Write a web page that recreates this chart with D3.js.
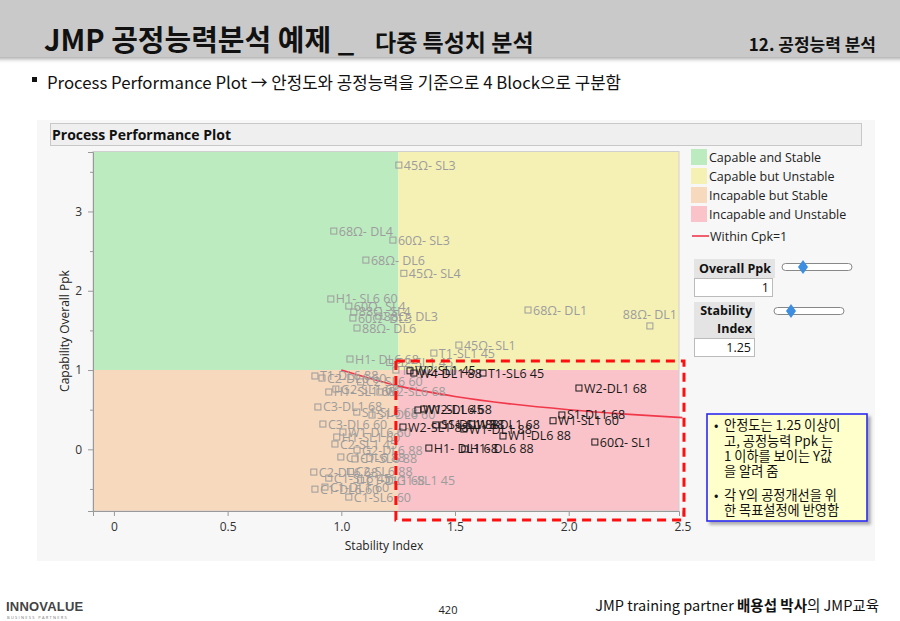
<!DOCTYPE html>
<html><head><meta charset="utf-8">
<script src="https://cdn.jsdelivr.net/npm/d3@7"></script>
<style>body{margin:0;background:#fff;overflow:hidden} svg{display:block}</style>
</head><body>
<script>
// ---------- data ----------
const pointLabels = [
 "45Ω- SL3","68Ω- DL4","60Ω- SL3","68Ω- DL6","45Ω- SL4","H1- SL6 60","60Ω- SL4","88Ω- SL4","60Ω- DL3","88Ω- DL3",
 "88Ω- DL6","68Ω- DL1","88Ω- DL1","45Ω- SL1","T1-SL1 45","H1- DL6 68","G2-SL1 45","T1-SL1 60",
 "T1-DL6 88","C2-DL6 60","G2-SL1 68","H1- SL1 68","W2-SL6 68","C2-SL6 60","C3-DL1 68","S1-SL6 68","S1-DL6 60",
 "C3-DL6 60","W1-DL6 60","H1-SL1 60","C2-SL1 45","C1-DL6 88","C1-SL6 88","G2-DL6 88","C2-DL6 68","C2-SL6 88",
 "C1-SL6 45","C1-DL1 60","C1-DL6 60","C1-SL6 60","C1-DL1 68","G1-SL1 45",
 "W2-SL1 45","W4-DL1 88","T1-SL6 45","W2-DL1 68","W1-SL1 45","W2-DL6 68","S1-DL1 68","W1-SL1 60","W2-SL1 88",
 "S1-DL1 88","S1-SL1 88","W3-DL1 68","W1-DL1 88","W1-DL6 88","60Ω- SL1","H1- DL1 68","H1- DL6 88"
];
const stabilityIndex = [
 1.253,0.967,1.227,1.108,1.275,0.954,1.033,1.055,1.051,1.165,
 1.069,1.821,2.357,1.517,1.407,1.038,1.213,1.240,
 0.884,0.915,0.976,0.945,1.170,1.085,0.897,1.068,1.135,
 0.919,1.007,0.980,0.972,0.998,1.060,1.069,0.879,1.040,
 0.945,0.928,0.884,1.033,1.085,1.222,
 1.302,1.319,1.623,2.045,1.337,1.363,1.970,1.931,1.271,
 1.416,1.447,1.574,1.539,1.711,2.115,1.385,1.543
];
const overallPpk = [
 3.585,2.753,2.639,2.387,2.220,1.896,1.807,1.732,1.656,1.681,
 1.530,1.757,1.556,1.315,1.214,1.139,1.095,1.000,
 0.925,0.899,0.760,0.723,0.723,0.850,0.534,0.470,0.433,
 0.319,0.218,0.155,0.067,-0.097,-0.122,-0.009,-0.287,-0.280,
 -0.363,-0.476,-0.502,-0.602,-0.390,-0.389,
 0.990,0.962,0.962,0.773,0.496,0.508,0.433,0.360,0.281,
 0.307,0.307,0.319,0.256,0.168,0.092,0.016,0.004
];
const xTicks = [0,0.5,1,1.5,2,2.5];
const xTickLabels = ["0","0.5","1.0","1.5","2.0","2.5"];
const yTicks = [0,1,2,3];
const yTickLabels = ["0","1","2","3"];
const yMinorTicks = [-0.5,0.5,1.5,2.5,3.5];
const xDomain = [-0.092,2.485];
const yDomain = [-0.778,3.75];
const ppkLimit = 1;
const stabilityLimit = 1.25;
const refStability = [1.0,1.25,1.5,1.75,2.0,2.25,2.5];
const refPpk = [1.0,0.8,0.667,0.571,0.5,0.444,0.4];
const regionNames = ["Capable and Stable","Capable but Unstable","Incapable but Stable","Incapable and Unstable"];
const regionColors = ["#bcebc0","#f5f1b5","#f7d9bd","#f9c3c9"];
const highlightBox = {x0:1.24, x1:2.507, y0:1.115, y1:-0.89};
const calloutLines = [
 ["• ","안정도는 1.25 이상이"],["","고, 공정능력 Ppk 는"],["","1 이하를 보이는 Y값"],["","을 알려 줌"],
 ["• ","각 Y의 공정개선을 위"],["","한 목표설정에 반영함"]
];

// ---------- drawing ----------
const W=900,H=621;
const svg=d3.select("body").append("svg").attr("width",W).attr("height",H);
const defs=svg.append("defs");
const f1=defs.append("filter").attr("id","sh").attr("x","-10%").attr("y","-50%").attr("width","120%").attr("height","200%");
f1.append("feDropShadow").attr("dx",0).attr("dy",2).attr("stdDeviation",2).attr("flood-color","#000").attr("flood-opacity",0.35);
const f2=defs.append("filter").attr("id","sh2").attr("x","-10%").attr("y","-10%").attr("width","130%").attr("height","130%");
f2.append("feDropShadow").attr("dx",3).attr("dy",3).attr("stdDeviation",1.5).attr("flood-color","#000").attr("flood-opacity",0.3);

const KR="'Noto Sans CJK KR','Noto Sans',sans-serif";
const UI="'Open Sans','Noto Sans',sans-serif";

// header
svg.append("rect").attr("x",-5).attr("y",-5).attr("width",W+10).attr("height",62).attr("fill","#c9c9c9").attr("filter","url(#sh)");
svg.append("text").attr("x",44).attr("y",51).attr("font-family",KR).attr("fill","#111")
 .attr("font-size",29).attr("font-weight",700).text("JMP 공정능력분석 예제 _");
svg.append("text").attr("x",375).attr("y",51).attr("font-family",KR).attr("fill","#111")
 .attr("font-size",23).attr("font-weight",700).text("다중 특성치 분석");
svg.append("text").attr("x",876).attr("y",51).attr("text-anchor","end").attr("font-family",KR).attr("font-size",17).attr("font-weight",700).attr("fill","#111").text("12. 공정능력 분석");

// subtitle
svg.append("rect").attr("x",32).attr("y",77).attr("width",5).attr("height",5).attr("fill","#111");
svg.append("text").attr("x",47).attr("y",89).attr("font-family",KR).attr("font-size",16.8).attr("fill","#111")
  .text("Process Performance Plot → 안정도와 공정능력을 기준으로 4 Block으로 구분함");

// JMP panel
svg.append("rect").attr("x",37).attr("y",120).attr("width",838).attr("height",441).attr("fill","#f7f7f7");
svg.append("rect").attr("x",50.5).attr("y",123.5).attr("width",811).attr("height",22).attr("fill","#efefef").attr("stroke","#c8c8c8");
svg.append("text").attr("x",52).attr("y",140).attr("font-family",UI).attr("font-size",14).attr("font-weight",700).attr("fill","#111").text("Process Performance Plot");

const x=d3.scaleLinear().domain(xDomain).range([93,679]);
const y=d3.scaleLinear().domain(yDomain).range([511,152]);

// regions
const regions=[
 {x0:xDomain[0],x1:stabilityLimit,y0:yDomain[1],y1:ppkLimit},
 {x0:stabilityLimit,x1:xDomain[1],y0:yDomain[1],y1:ppkLimit},
 {x0:xDomain[0],x1:stabilityLimit,y0:ppkLimit,y1:yDomain[0]},
 {x0:stabilityLimit,x1:xDomain[1],y0:ppkLimit,y1:yDomain[0]}
];
const plot=svg.append("g");
plot.selectAll("rect.reg").data(regions).join("rect").attr("class","reg")
 .attr("x",d=>x(d.x0)).attr("y",d=>y(d.y0)).attr("width",d=>x(d.x1)-x(d.x0)).attr("height",d=>y(d.y1)-y(d.y0))
 .attr("fill",(d,i)=>regionColors[i]);
plot.append("rect").attr("x",93).attr("y",151.5).attr("width",586).attr("height",359.5).attr("fill","none").attr("stroke","#d0d0d0");

// axes
const xa=svg.append("g").attr("transform","translate(0,511)")
 .call(d3.axisBottom(x).tickValues(xTicks).tickFormat((d,i)=>xTickLabels[i]).tickSize(5).tickPadding(6));
const ya=svg.append("g").attr("transform","translate(93,0)")
 .call(d3.axisLeft(y).tickValues(yTicks).tickFormat((d,i)=>yTickLabels[i]).tickSize(5).tickPadding(6));
svg.append("g").attr("transform","translate(93,0)").call(d3.axisLeft(y).tickValues(yMinorTicks).tickFormat("").tickSize(3))
  .call(g=>g.select(".domain").remove()).selectAll("line").attr("stroke","#999");
[xa,ya].forEach(a=>{a.select(".domain").attr("stroke","#999");a.selectAll(".tick line").attr("stroke","#999");
 a.selectAll("text").attr("font-family",UI).attr("font-size",12).attr("fill","#333");});
svg.append("text").attr("x",384).attr("y",550).attr("text-anchor","middle").attr("font-family",UI).attr("font-size",12).attr("fill","#222").text("Stability Index");
svg.append("text").attr("transform","translate(69,331) rotate(-90)").attr("text-anchor","middle").attr("font-family",UI).attr("font-size",12).attr("fill","#222").text("Capability Overall Ppk");

// reference curve
const ref=refStability.map((s,i)=>[s,refPpk[i]]);
plot.append("path").datum(ref).attr("d",d3.line().x(d=>x(d[0])).y(d=>y(d[1])).curve(d3.curveMonotoneX))
 .attr("fill","none").attr("stroke","#f0384a").attr("stroke-width",1.6);

// points
const pts=pointLabels.map((l,i)=>({l,s:stabilityIndex[i],p:overallPpk[i],hi:stabilityIndex[i]>stabilityLimit&&overallPpk[i]<ppkLimit}));
pts.sort((a,b)=>a.hi-b.hi);
const pg=plot.selectAll("g.pt").data(pts).join("g").attr("class","pt")
 .attr("transform",d=>`translate(${x(d.s)},${y(d.p)})`);
pg.append("rect").attr("x",-3).attr("y",-3).attr("width",6).attr("height",6).attr("fill","none")
 .attr("stroke",d=>d.hi?"#1a1a1a":"#9c9c9c").attr("stroke-width",1);
pg.append("text").attr("font-family",UI).attr("font-size",12.5)
 .attr("fill",d=>d.hi?"#1a1a1a":"#9c9c9c").text(d=>d.l)
 .each(function(d){
   const el=d3.select(this);
   const w=this.getComputedTextLength();
   if(x(d.s)+5+w>x.range()[1]){ // label would leave the frame: centre it above the point
     el.attr("x",0).attr("y",-7).attr("text-anchor","middle");
   } else el.attr("x",5).attr("y",4.5);
 });

// highlight box
svg.append("rect").attr("x",x(highlightBox.x0)).attr("y",y(highlightBox.y0))
 .attr("width",x(highlightBox.x1)-x(highlightBox.x0)).attr("height",y(highlightBox.y1)-y(highlightBox.y0))
 .attr("fill","none").attr("stroke","#ff1010").attr("stroke-width",3).attr("stroke-dasharray","9,6");

// legend
const lg=svg.append("g");
regionNames.forEach((n,i)=>{
 lg.append("rect").attr("x",691).attr("y",149+i*19).attr("width",16).attr("height",16).attr("fill",regionColors[i]);
 lg.append("text").attr("x",709).attr("y",162+i*19).attr("font-family",UI).attr("font-size",12.5).attr("fill","#222").text(n);
});
lg.append("line").attr("x1",692).attr("x2",709).attr("y1",236).attr("y2",236).attr("stroke","#f0384a").attr("stroke-width",1.6);
lg.append("text").attr("x",710).attr("y",240.5).attr("font-family",UI).attr("font-size",12.5).attr("fill","#222").text("Within Cpk=1");

// controls
function slider(x0,x1,cy,kx){
 lg.append("rect").attr("x",x0).attr("y",cy-3.5).attr("width",x1-x0).attr("height",7).attr("rx",3.5).attr("fill","#fff").attr("stroke","#888");
 lg.append("path").attr("d",`M${kx},${cy-7}L${kx+5},${cy}L${kx},${cy+7}L${kx-5},${cy}Z`).attr("fill","#3d8ee0");
}
lg.append("rect").attr("x",694).attr("y",259).attr("width",81).attr("height",19).attr("fill","#e4e4e4");
lg.append("text").attr("x",771).attr("y",273).attr("text-anchor","end").attr("font-family",UI).attr("font-size",12.5).attr("font-weight",700).attr("fill","#111").text("Overall Ppk");
lg.append("rect").attr("x",694.5).attr("y",278.5).attr("width",78).attr("height",18).attr("fill","#fff").attr("stroke","#bbb");
lg.append("text").attr("x",769).attr("y",292).attr("text-anchor","end").attr("font-family",UI).attr("font-size",12.5).attr("fill","#111").text("1");
slider(782,852,267,803);
lg.append("rect").attr("x",694).attr("y",302).attr("width",61).attr("height",36).attr("fill","#e4e4e4");
lg.append("text").attr("x",752).attr("y",315).attr("text-anchor","end").attr("font-family",UI).attr("font-size",12.5).attr("font-weight",700).attr("fill","#111").text("Stability");
lg.append("text").attr("x",752).attr("y",333).attr("text-anchor","end").attr("font-family",UI).attr("font-size",12.5).attr("font-weight",700).attr("fill","#111").text("Index");
lg.append("rect").attr("x",694.5).attr("y",338.5).attr("width",60).attr("height",18).attr("fill","#fff").attr("stroke","#bbb");
lg.append("text").attr("x",751).attr("y",352).attr("text-anchor","end").attr("font-family",UI).attr("font-size",12.5).attr("fill","#111").text("1.25");
slider(774,844,311,791);

// callout
svg.append("rect").attr("x",707).attr("y",414).attr("width",160).attr("height",107).attr("fill","#ffffcc").attr("stroke","#2b2bf0").attr("stroke-width",1.6).attr("filter","url(#sh2)");
const cys=[430,446,461,476,500,515];
calloutLines.forEach((l,i)=>{
 if(l[0]) svg.append("text").attr("x",714).attr("y",cys[i]).attr("font-family",KR).attr("font-size",13).attr("fill","#111").text("•");
 svg.append("text").attr("x",724).attr("y",cys[i]).attr("font-family",KR).attr("font-size",13.2).attr("fill","#111").text(l[1]);
});

// footer
svg.append("text").attr("x",6).attr("y",611).attr("font-family","'Liberation Sans Narrow','Liberation Sans',sans-serif").attr("font-size",13).attr("font-weight",700).attr("fill","#444").attr("letter-spacing",0.2).text("INNOVALUE");
svg.append("text").attr("x",7).attr("y",619).attr("font-family",UI).attr("font-size",4).attr("fill","#777").attr("letter-spacing",1.3).text("BUSINESS PARTNERS");
svg.append("text").attr("x",448).attr("y",614).attr("text-anchor","middle").attr("font-family",UI).attr("font-size",11).attr("fill","#222").text("420");
const ft=svg.append("text").attr("x",879).attr("y",611).attr("text-anchor","end").attr("font-family",KR).attr("font-size",14.5).attr("fill","#111");
ft.append("tspan").text("JMP training partner ");
ft.append("tspan").attr("font-weight",700).text("배용섭 박사");
ft.append("tspan").text("의 JMP교육");
</script>
</body></html>
